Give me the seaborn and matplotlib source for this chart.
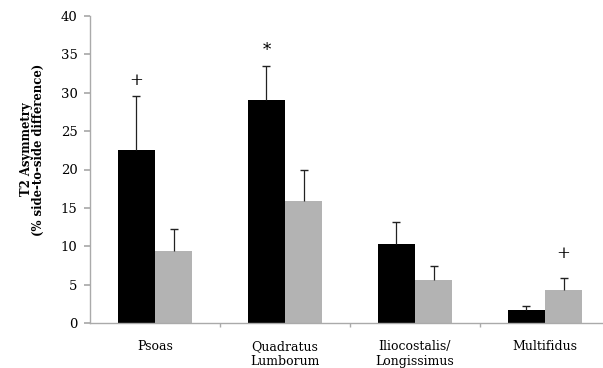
import matplotlib
matplotlib.use("Agg")
import matplotlib.pyplot as plt
import seaborn as sns
import pandas as pd
import numpy as np

# Muscle groups and mean T2 asymmetry per group
muscles = ["Psoas", "Quadratus\nLumborum", "Iliocostalis/\nLongissimus", "Multifidus"]
groups = ["LBP", "Control"]
lbp_mean = [22.6, 29.1, 10.3, 1.75]
lbp_err = [7.0, 4.4, 2.9, 0.45]
ctrl_mean = [9.4, 15.9, 5.65, 4.35]
ctrl_err = [2.8, 4.1, 1.75, 1.55]
# significance marks: (muscle index, group index, symbol)
marks = [(0, 0, "+"), (1, 0, "*"), (3, 1, "+")]
mark_gap = {0: 0.9, 1: 0.9, 3: 2.0}

sns.set_theme(style="white")
plt.rcParams["font.family"] = ["DejaVu Serif"]
plt.rcParams["text.color"] = "black"
plt.rcParams["axes.labelcolor"] = "black"
plt.rcParams["xtick.labelcolor"] = "black"
plt.rcParams["ytick.labelcolor"] = "black"

df = pd.DataFrame({
    "muscle": muscles * 2,
    "group": [groups[0]] * 4 + [groups[1]] * 4,
    "value": lbp_mean + ctrl_mean,
})

fig = plt.figure(figsize=(6.03, 3.68), dpi=100)
ax = fig.add_axes([90 / 603, 45 / 368, 520 / 603, 307 / 368])

sns.barplot(data=df, x="muscle", y="value", hue="group", order=muscles,
            hue_order=groups, palette=["#000000", "#b3b3b3"],
            width=0.57, errorbar=None, legend=False, ax=ax,
            saturation=1, linewidth=0)

errs = [lbp_err, ctrl_err]
means = [lbp_mean, ctrl_mean]
bar_containers = list(ax.containers)
for gi, container in enumerate(bar_containers):
    xs = [p.get_x() + p.get_width() / 2 for p in container.patches]
    tops = [m + e for m, e in zip(means[gi], errs[gi])]
    # one-sided (upper) error bars with a cap only at the top
    ax.errorbar(xs, means[gi], yerr=[np.zeros(len(xs)), errs[gi]],
                fmt="none", ecolor="#222222", elinewidth=0.9, capsize=0)
    ax.plot(xs, tops, linestyle="none", marker="_", markersize=6,
            markeredgewidth=1.0, color="#222222")
    for mi, g, sym in marks:
        if g == gi:
            ax.text(xs[mi], tops[mi] + mark_gap[mi], sym, ha="center",
                    va="bottom", fontsize=12, color="black")

ax.set_xlim(-0.5, 3.5)
ax.set_ylim(0, 40)
ax.set_yticks(range(0, 41, 5))
ax.set_xlabel("")
ax.set_ylabel("T2 Asymmetry\n(% side-to-side difference)", fontsize=8.4,
              fontweight="bold", linespacing=0.95)
ax.yaxis.set_label_coords(-0.086, 0.565)

for side in ["top", "right"]:
    ax.spines[side].set_visible(False)
for side in ["left", "bottom"]:
    ax.spines[side].set_color("#aaaaaa")
    ax.spines[side].set_linewidth(1.0)

ax.tick_params(axis="y", which="major", direction="out", length=4,
               color="#aaaaaa", labelsize=9.5, pad=5, left=True)
ax.tick_params(axis="x", which="major", length=0, labelsize=9, pad=12)
ax.set_xticks([0.5, 1.5, 2.5], minor=True)
ax.tick_params(axis="x", which="minor", direction="out", length=3,
               color="#aaaaaa", bottom=True)

fig.savefig("out.png", dpi=100)
